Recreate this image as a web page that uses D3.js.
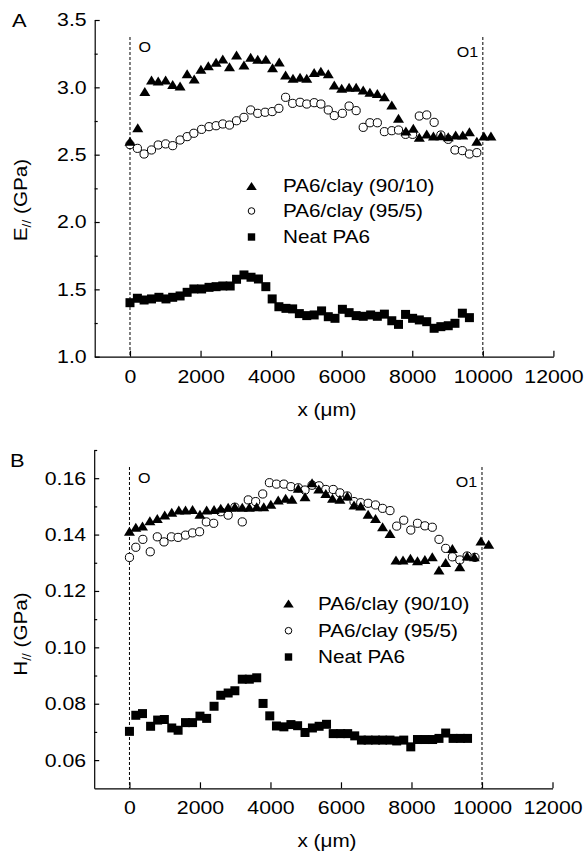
<!DOCTYPE html>
<html lang="en">
<head>
<meta charset="UTF-8">
<title>Modulus and hardness profiles</title>
<script src="https://d3js.org/d3.v7.min.js"></script>
<style>
  body { margin: 0; background: #fff; }
  svg text { font-family: "Liberation Sans", Arial, sans-serif; fill: #000; }
</style>
</head>
<body>
<script>
// Panel A: E// (GPa) vs x (um)
const aTriX = [0,220,420,610,800,1010,1210,1420,1620,1820,2010,2220,2440,2630,2820,3020,3230,3420,3620,3850,4040,4230,4410,4620,4820,5010,5220,5410,5620,5790,6000,6210,6410,6610,6800,7010,7210,7420,7610,7820,8030,8200,8410,8600,8810,9020,9230,9430,9620,9830,10030,10230];
const aTriY = [2.60,2.70,2.97,3.055,3.047,3.055,3.022,3.01,3.10,3.062,3.134,3.16,3.186,3.21,3.153,3.24,3.166,3.223,3.208,3.208,3.146,3.188,3.092,3.067,3.074,3.067,3.11,3.12,3.10,3.017,2.993,3.0,3.0,2.98,2.963,2.955,2.93,2.869,2.77,2.676,2.696,2.629,2.654,2.639,2.641,2.634,2.646,2.646,2.671,2.60,2.639,2.639];
const aCirX = [0,210,400,610,800,1010,1210,1420,1620,1810,2030,2240,2440,2630,2820,3020,3230,3420,3620,3830,4030,4220,4410,4610,4820,5010,5220,5410,5620,5790,6020,6210,6410,6610,6800,7010,7210,7420,7610,7810,8010,8200,8410,8620,8810,9020,9210,9420,9620,9830];
const aCirY = [2.575,2.547,2.505,2.535,2.572,2.58,2.567,2.609,2.634,2.659,2.688,2.708,2.715,2.728,2.72,2.752,2.777,2.832,2.807,2.815,2.82,2.844,2.926,2.881,2.889,2.876,2.886,2.876,2.832,2.79,2.807,2.861,2.827,2.703,2.737,2.737,2.671,2.678,2.683,2.651,2.651,2.787,2.795,2.74,2.646,2.614,2.535,2.53,2.505,2.515];
const aSqX = [0,210,400,610,820,1020,1210,1420,1620,1810,2030,2240,2440,2630,2840,3020,3230,3430,3640,3850,4030,4220,4420,4610,4800,5010,5220,5430,5620,5810,6020,6210,6410,6610,6820,7010,7210,7420,7610,7810,8010,8200,8410,8620,8810,9020,9210,9420,9620];
const aSqY = [1.401,1.434,1.421,1.429,1.441,1.429,1.441,1.451,1.478,1.503,1.503,1.515,1.52,1.525,1.525,1.575,1.607,1.59,1.577,1.52,1.429,1.371,1.359,1.355,1.32,1.305,1.31,1.34,1.297,1.285,1.352,1.327,1.305,1.30,1.31,1.30,1.316,1.267,1.24,1.314,1.285,1.273,1.26,1.211,1.223,1.23,1.248,1.323,1.29];

// Panel B: H// (GPa) vs x (um)
const bTriX = [0,180,370,580,790,1000,1200,1400,1590,1790,2000,2190,2400,2590,2800,2990,3200,3400,3610,3810,4010,4220,4430,4610,4790,4980,5180,5370,5570,5760,5970,6180,6370,6560,6770,6980,7180,7390,7560,7760,7970,8170,8380,8590,8780,8970,9160,9370,9580,9780,9970,10190];
const bTriY = [0.1412,0.1426,0.143,0.1449,0.1457,0.1469,0.1479,0.1487,0.1487,0.1489,0.1472,0.1487,0.1489,0.1493,0.1497,0.1499,0.1497,0.1497,0.1499,0.1499,0.1508,0.1523,0.1529,0.1525,0.1564,0.1534,0.1584,0.1562,0.1546,0.1529,0.1525,0.1537,0.1505,0.1501,0.1472,0.1457,0.1428,0.1404,0.131,0.131,0.1316,0.1307,0.1312,0.1321,0.1274,0.1301,0.1351,0.1286,0.1324,0.1321,0.1377,0.1366];
const bCirX = [0,180,380,590,790,980,1190,1380,1590,1790,1990,2180,2390,2590,2800,2990,3200,3370,3580,3780,3970,4170,4380,4580,4790,4980,5180,5380,5570,5780,5970,6180,6370,6560,6770,6980,7180,7390,7580,7780,7980,8170,8380,8590,8780,8970,9160,9370,9580,9800];
const bCirY = [0.1319,0.1355,0.1383,0.1339,0.1392,0.1374,0.1392,0.139,0.1398,0.1406,0.141,0.1445,0.144,0.1481,0.1469,0.1497,0.1445,0.1523,0.1517,0.1544,0.1584,0.1579,0.1579,0.157,0.1566,0.1558,0.1575,0.1573,0.156,0.156,0.1548,0.1537,0.1517,0.1513,0.1511,0.1505,0.1493,0.1485,0.143,0.1451,0.1416,0.144,0.1431,0.1426,0.1383,0.1351,0.1321,0.131,0.1324,0.1319];
const bSqX = [0,180,370,600,800,990,1200,1380,1590,1790,2000,2190,2400,2590,2800,2990,3200,3400,3610,3790,3980,4170,4380,4580,4770,4980,5190,5380,5590,5780,5990,6190,6390,6580,6770,6980,7180,7390,7580,7780,7980,8170,8380,8600,8780,8970,9180,9390,9590];
const bSqY = [0.0702,0.0759,0.0765,0.072,0.0742,0.0744,0.0714,0.0706,0.0733,0.0733,0.0756,0.0748,0.0791,0.083,0.0838,0.0846,0.0887,0.0887,0.0892,0.0801,0.0757,0.0721,0.0718,0.0726,0.0722,0.0698,0.0714,0.072,0.0727,0.0694,0.0694,0.0694,0.0686,0.0671,0.0671,0.0671,0.0671,0.0671,0.0668,0.0671,0.0647,0.0673,0.0673,0.0673,0.0677,0.0696,0.0677,0.0677,0.0677];

// ticks and labels
const xTicks = [0, 2000, 4000, 6000, 8000, 10000, 12000];
const aTicks = [1.0, 1.5, 2.0, 2.5, 3.0, 3.5];
const aMinor = [1.25, 1.75, 2.25, 2.75, 3.25];
const bTicks = [0.06, 0.08, 0.10, 0.12, 0.14, 0.16];
const bMinor = [0.07, 0.09, 0.11, 0.13, 0.15, 0.17];
const seriesNames = ["PA6/clay (90/10)", "PA6/clay (95/5)", "Neat PA6"];
const markLines = [0, 10000];

const width = 584, height = 852;
const SX = 1.15; // glyphs in the figure are a bit wide

const svg = d3.select("body").append("svg")
  .attr("width", width)
  .attr("height", height);

// text helper, stretched horizontally
function label(g, x, y, size, anchor, str, rot) {
  return g.append("text")
    .attr("transform", `translate(${x},${y})` + (rot ? ` rotate(${rot})` : "") + ` scale(${SX},1)`)
    .attr("font-size", size)
    .attr("text-anchor", anchor)
    .text(str);
}

function triPath(w, h) {
  return `M${-w / 2},${h / 2}L${w / 2},${h / 2}L0,${-h / 2}Z`;
}

function drawPanel(p) {
  const g = svg.append("g");
  const x = d3.scaleLinear().domain([-1000, 12000]).range(p.xRange);
  const y = d3.scaleLinear().domain(p.yDomain).range(p.yRange);

  // dashed lines at the two edges of the sample
  markLines.forEach(v => {
    g.append("line")
      .attr("x1", x(v)).attr("x2", x(v))
      .attr("y1", p.dashTop).attr("y2", p.yRange[0])
      .attr("stroke", "#000").attr("stroke-width", 1)
      .attr("stroke-dasharray", "3,2");
  });

  // axes, ticks pointing inwards
  const xAxis = g.append("g")
    .attr("transform", `translate(0,${p.yRange[0]})`)
    .call(d3.axisBottom(x).tickValues(xTicks).tickSizeInner(-6).tickSizeOuter(0).tickPadding(13)
      .tickFormat(d3.format("d")));
  const yAxis = g.append("g")
    .attr("transform", `translate(${p.xRange[0]},0)`)
    .call(d3.axisLeft(y).tickValues(p.ticks).tickSizeInner(-5).tickSizeOuter(0).tickPadding(7)
      .tickFormat(d3.format(p.fmt)));
  g.append("g")
    .attr("transform", `translate(${p.xRange[0]},0)`)
    .call(d3.axisLeft(y).tickValues(p.minor).tickSizeInner(-3).tickSizeOuter(0).tickFormat(""))
    .call(a => a.select(".domain").remove());

  [xAxis, yAxis].forEach(a => {
    a.attr("font-size", 18.5).attr("font-family", null);
    a.selectAll("path, line").attr("stroke-width", 1.2);
    a.selectAll("text").attr("transform", `scale(${SX},1)`);
  });
  g.selectAll(".tick line").attr("stroke-width", 1.2);

  // data: circles, then triangles, then squares
  g.append("g").selectAll("circle")
    .data(d3.zip(p.cirX, p.cirY))
    .join("circle")
    .attr("cx", d => x(d[0])).attr("cy", d => y(d[1]))
    .attr("r", 4.1)
    .attr("fill", "#fff").attr("stroke", "#000").attr("stroke-width", 1);

  g.append("g").selectAll("path")
    .data(d3.zip(p.triX, p.triY))
    .join("path")
    .attr("d", triPath(11, 9))
    .attr("transform", d => `translate(${x(d[0])},${y(d[1])})`)
    .attr("fill", "#000");

  g.append("g").selectAll("rect")
    .data(d3.zip(p.sqX, p.sqY))
    .join("rect")
    .attr("x", d => x(d[0]) - 4.5).attr("y", d => y(d[1]) - 4.5)
    .attr("width", 9).attr("height", 9)
    .attr("fill", "#000");

  // legend
  const lg = g.append("g");
  lg.append("path")
    .attr("d", triPath(10.5, 8))
    .attr("transform", `translate(${p.legX},${p.legY[0]})`);
  lg.append("circle")
    .attr("cx", p.legX).attr("cy", p.legY[1]).attr("r", 3.3)
    .attr("fill", "#fff").attr("stroke", "#000").attr("stroke-width", 1);
  lg.append("rect")
    .attr("x", p.legX - 3.7).attr("y", p.legY[2] - 3.7)
    .attr("width", 7.4).attr("height", 7.4);
  seriesNames.forEach((s, i) => label(lg, p.legTextX, p.legY[i] + 6, 18, "start", s));

  // edge labels
  label(g, p.oX, p.oY, 14, "start", "O");
  label(g, p.o1X, p.o1Y, 14, "end", "O1");

  // panel letter
  label(g, p.letterX, p.letterY, 19, "start", p.letter);

  // axis titles
  const yt = label(g, 27, p.yTitleY, 18, "middle", "", -90);
  yt.append("tspan").text(p.yVar);
  yt.append("tspan").attr("font-size", 12).attr("dy", 4).text("//");
  yt.append("tspan").attr("dy", -4).text(" (GPa)");
  label(g, 327, p.xTitleY, 18, "middle", "x (\u03bcm)");
}

drawPanel({
  letter: "A", letterX: 12, letterY: 27,
  xRange: [94.7, 553.4], yDomain: [1.0, 3.5], yRange: [356.7, 20],
  ticks: aTicks, minor: aMinor, fmt: ".1f",
  triX: aTriX, triY: aTriY, cirX: aCirX, cirY: aCirY, sqX: aSqX, sqY: aSqY,
  dashTop: 37,
  legX: 251.5, legY: [186, 211, 237], legTextX: 283,
  oX: 138.5, oY: 51.7, o1X: 478.3, o1Y: 56.7,
  yVar: "E", yTitleY: 200, xTitleY: 416
});

drawPanel({
  letter: "B", letterX: 10, letterY: 467,
  xRange: [94.2, 552.5], yDomain: [0.05, 0.17], yRange: [788.3, 450],
  ticks: bTicks, minor: bMinor, fmt: ".2f",
  triX: bTriX, triY: bTriY, cirX: bCirX, cirY: bCirY, sqX: bSqX, sqY: bSqY,
  dashTop: 467,
  legX: 288.5, legY: [603.5, 630.7, 657], legTextX: 318,
  oX: 138, oY: 482.7, o1X: 477.3, o1Y: 486.7,
  yVar: "H", yTitleY: 634, xTitleY: 847
});
</script>
</body>
</html>
